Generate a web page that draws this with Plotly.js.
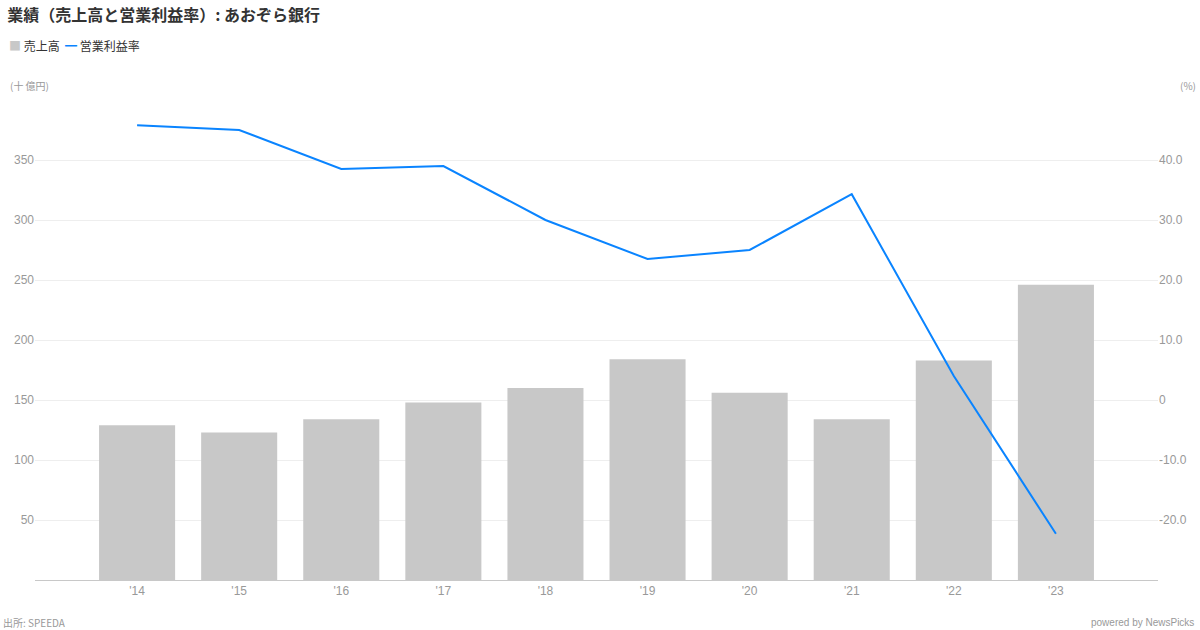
<!DOCTYPE html>
<html><head><meta charset="utf-8">
<script src="https://cdn.plot.ly/plotly-3.0.1.min.js"></script>
<style>body{margin:0;background:#fff}#c{width:1200px;height:630px}</style>
</head><body><div id="c"></div>
<script>
const years = ["'14","'15","'16","'17","'18","'19","'20","'21","'22","'23"];
const sales = [129, 123, 134, 148, 160, 184, 156, 134, 183, 246];
const margin = [45.8, 45.0, 38.5, 39.0, 30.0, 23.5, 25.0, 34.3, 4.0, -22.3];
const leftTicks = [50, 100, 150, 200, 250, 300, 350];
const rightTicks = [-20, -10, 0, 10, 20, 30, 40];
const rightLabels = ["-20.0", "-10.0", "0", "10.0", "20.0", "30.0", "40.0"];
const seriesNames = ['売上高', '営業利益率'];
const seriesColors = ['#c8c8c8', '#0a84ff'];

const F = '"Noto Sans CJK JP", "Noto Sans", sans-serif';
const A = '"Liberation Sans", Arial, "Noto Sans CJK JP", sans-serif';
const data = [
  {type:'bar', x: years, y: sales, name:seriesNames[0], marker:{color:seriesColors[0]}, width:0.745, yaxis:'y', hoverinfo:'none'},
  {type:'scatter', mode:'lines', x: years, y: margin, name:seriesNames[1], line:{color:seriesColors[1], width:2}, yaxis:'y2', hoverinfo:'none'}
];
const layout = {
  width:1200, height:630,
  margin:{l:35, r:42, t:100, b:50},
  paper_bgcolor:'#fff', plot_bgcolor:'#fff',
  font:{family:A, color:'#999', size:12},
  title:{text:'<b>業績（売上高と営業利益率）: あおぞら銀行</b>', xref:'container', yref:'container', x:0.006, xanchor:'left', y:0.975, yanchor:'middle', font:{family:F, size:16, color:'#333'}},
  showlegend:false,
  xaxis:{type:'category', range:[-1, 10], showgrid:false, showline:true, linecolor:'#c8c8c8', linewidth:1, ticks:'', tickfont:{family:A, size:12, color:'#999'}, zeroline:false, fixedrange:true},
  yaxis:{range:[0, 400], tickvals:leftTicks, ticktext:leftTicks.map(String), showgrid:true, gridcolor:'#eeeeee', gridwidth:1, zeroline:false, showline:false, ticks:'', tickfont:{family:A, size:12, color:'#999'}, fixedrange:true},
  yaxis2:{range:[-30, 50], overlaying:'y', side:'right', tickvals:rightTicks, ticktext:rightLabels, showgrid:false, zeroline:false, showline:false, ticks:'', tickfont:{family:A, size:12, color:'#999'}, fixedrange:true},
  annotations:[
    {text:'<span style="color:'+seriesColors[0]+'">■</span> '+seriesNames[0]+'  <span style="color:'+seriesColors[1]+'"><b>━</b></span> '+seriesNames[1], xref:'paper', yref:'paper', x:0, y:0, xshift:-28, yshift:535, xanchor:'left', yanchor:'middle', showarrow:false, font:{family:F, size:12, color:'#333'}},
    {text:'(十 億円)', xref:'paper', yref:'paper', x:0, y:0, xshift:-27, yshift:495, xanchor:'left', yanchor:'middle', showarrow:false, font:{family:F, size:10, color:'#999'}},
    {text:'(%)', xref:'paper', yref:'paper', x:1, y:0, xshift:40, yshift:495, xanchor:'right', yanchor:'middle', showarrow:false, font:{family:F, size:10, color:'#999'}},
    {text:'出所: SPEEDA', xref:'paper', yref:'paper', x:0, y:0, xshift:-34, yshift:-42, xanchor:'left', yanchor:'middle', showarrow:false, font:{family:F, size:10, color:'#999'}},
    {text:'powered by NewsPicks', xref:'paper', yref:'paper', x:1, y:0, xshift:38, yshift:-42, xanchor:'right', yanchor:'middle', showarrow:false, font:{family:A, size:10, color:'#999'}}
  ]
};
Plotly.newPlot('c', data, layout, {displayModeBar:false, staticPlot:true});
</script></body></html>
